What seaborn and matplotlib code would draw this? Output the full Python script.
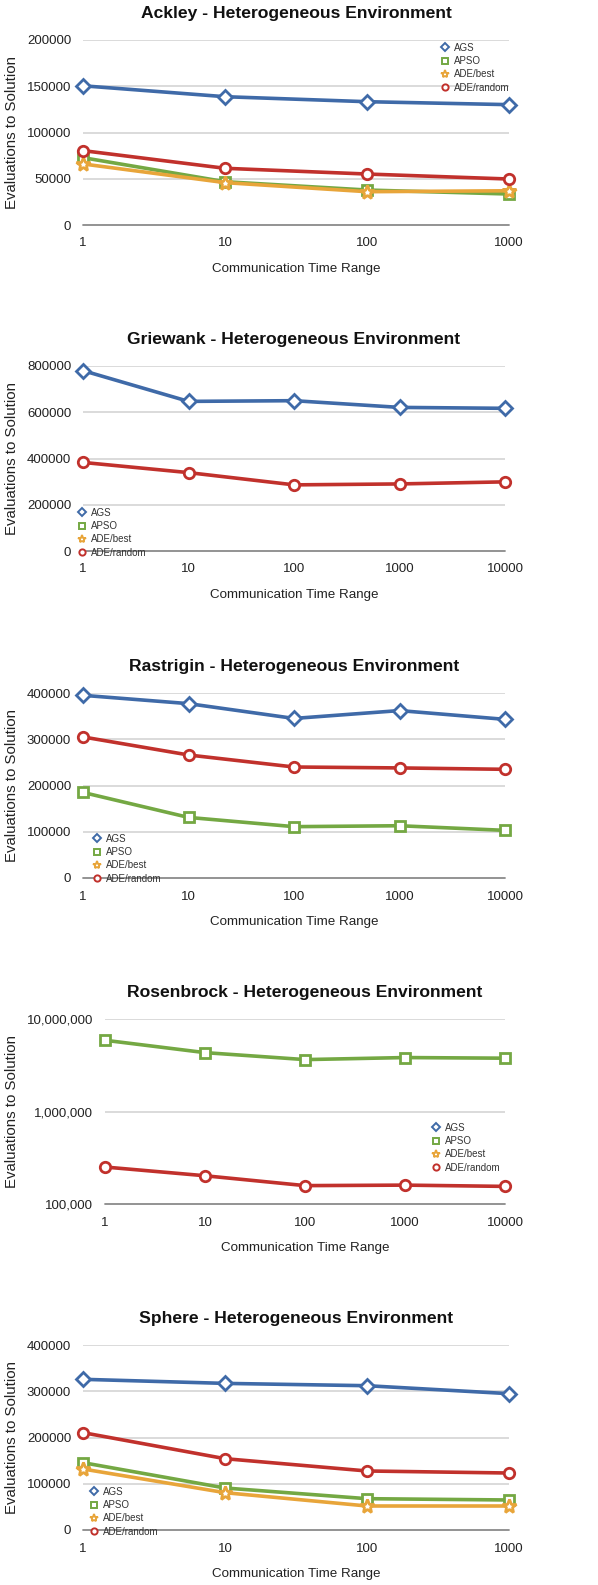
import numpy as np
import pandas as pd
import seaborn as sns
import matplotlib.pyplot as plt
from matplotlib.lines import Line2D
from matplotlib.ticker import FixedLocator, FixedFormatter, NullLocator

sns.set_theme(style="white")
plt.rcParams["font.family"] = ["Liberation Sans", "DejaVu Sans"]

# ---- data ----
series = ["AGS", "APSO", "ADE/best", "ADE/random"]
colors = {"AGS": "#3f6aa8", "APSO": "#74a843", "ADE/best": "#e8a53a", "ADE/random": "#c1312c"}
markers = {"AGS": "D", "APSO": "s", "ADE/best": "*", "ADE/random": "o"}
msizes = {"AGS": 7.5, "APSO": 7.5, "ADE/best": 10, "ADE/random": 7.5}

x4 = [1, 10, 100, 1000]
x5 = [1, 10, 100, 1000, 10000]

ackley_ags = [150500, 138700, 133300, 130100]
ackley_apso = [72800, 46800, 37800, 33500]
ackley_best = [66000, 45800, 36000, 37000]
ackley_rand = [80400, 61300, 55100, 49700]

griewank_ags = [780000, 647000, 650000, 621000, 617000]
griewank_rand = [383000, 339000, 286000, 290000, 299000]

rastrigin_ags = [395000, 377000, 345000, 362000, 343000]
rastrigin_apso = [185000, 131000, 111000, 113000, 103000]
rastrigin_rand = [305000, 266000, 240000, 238000, 235000]

rosen_apso = [5890000, 4330000, 3640000, 3830000, 3770000]
rosen_rand = [251000, 202000, 158000, 160000, 155000]

sphere_ags = [325800, 317000, 312000, 294800]
sphere_apso = [145600, 90800, 67700, 64900]
sphere_best = [131900, 80700, 51900, 51900]
sphere_rand = [210500, 154200, 127600, 123200]

panels = [
    dict(title="Ackley - Heterogeneous Environment", x=x4,
         data={"AGS": ackley_ags, "APSO": ackley_apso, "ADE/best": ackley_best, "ADE/random": ackley_rand},
         yticks=[0, 50000, 100000, 150000, 200000], ylabels=None, log=False,
         box=(83, 40, 509, 225), leg=(435, 38)),
    dict(title="Griewank - Heterogeneous Environment", x=x5,
         data={"AGS": griewank_ags, "ADE/random": griewank_rand},
         yticks=[0, 200000, 400000, 600000, 800000], ylabels=None, log=False,
         box=(83, 366, 505, 551), leg=(72, 503)),
    dict(title="Rastrigin - Heterogeneous Environment", x=x5,
         data={"AGS": rastrigin_ags, "APSO": rastrigin_apso, "ADE/random": rastrigin_rand},
         yticks=[0, 100000, 200000, 300000, 400000], ylabels=None, log=False,
         box=(83, 693, 505, 878), leg=(87, 829)),
    dict(title="Rosenbrock - Heterogeneous Environment", x=x5,
         data={"APSO": rosen_apso, "ADE/random": rosen_rand},
         yticks=[100000, 1000000, 10000000], ylabels=["100,000", "1,000,000", "10,000,000"], log=True,
         box=(105, 1019, 505, 1204), leg=(426, 1118)),
    dict(title="Sphere - Heterogeneous Environment", x=x4,
         data={"AGS": sphere_ags, "APSO": sphere_apso, "ADE/best": sphere_best, "ADE/random": sphere_rand},
         yticks=[0, 100000, 200000, 300000, 400000], ylabels=None, log=False,
         box=(83, 1345, 509, 1530), leg=(84, 1482)),
]

W, H = 598, 1585
fig = plt.figure(figsize=(W / 100, H / 100), dpi=100)

for p in panels:
    x0, y0, x1, y1 = p["box"]
    aw, ah = x1 - x0, y1 - y0
    ax = fig.add_axes([x0 / W, 1 - y1 / H, aw / W, ah / H])

    rows = []
    for name, vals in p["data"].items():
        for xv, yv in zip(p["x"], vals):
            rows.append({"x": xv, "y": yv, "series": name})
    df = pd.DataFrame(rows)

    for name in series:
        if name not in p["data"]:
            continue
        sub = df[df["series"] == name]
        sns.lineplot(data=sub, x="x", y="y", ax=ax, color=colors[name], lw=2.6,
                     marker=markers[name], ms=msizes[name], mfc="white",
                     mec=colors[name], mew=2.0, clip_on=False, zorder=3, legend=False)

    ax.set_xscale("log")
    ax.set_xlim(p["x"][0], p["x"][-1])
    ax.xaxis.set_major_locator(FixedLocator(p["x"]))
    ax.xaxis.set_major_formatter(FixedFormatter([str(v) for v in p["x"]]))
    ax.xaxis.set_minor_locator(NullLocator())

    if p["log"]:
        ax.set_yscale("log")
        ax.yaxis.set_minor_locator(NullLocator())
    ax.set_ylim(p["yticks"][0], p["yticks"][-1])
    ax.yaxis.set_major_locator(FixedLocator(p["yticks"]))
    labels = p["ylabels"] if p["ylabels"] else [str(v) for v in p["yticks"]]
    ax.yaxis.set_major_formatter(FixedFormatter(labels))

    for s in ["top", "right", "left", "bottom"]:
        ax.spines[s].set_visible(False)
    for yv in p["yticks"][1:]:
        ax.axhline(yv, color="#d4d4d4", lw=1.2, zorder=1)
    ax.axhline(p["yticks"][0], color="#8a8a8a", lw=1.3, zorder=1, clip_on=False)

    ax.tick_params(axis="both", length=0, labelsize=9.5, colors="#222222")
    ax.tick_params(axis="y", pad=8.5)
    ax.tick_params(axis="x", pad=9)
    ax.set_xlabel("Communication Time Range", fontsize=9.6, color="#222222")
    ax.set_ylabel("Evaluations to Solution", fontsize=10.8, color="#222222")
    ax.xaxis.set_label_coords(0.5, -38 / ah)
    ax.yaxis.set_label_coords((19 - x0) / aw, 0.5)
    ax.set_title(p["title"], fontsize=12.6, fontweight="bold", pad=16, color="#111111")

    handles = [Line2D([], [], ls="none", marker=markers[n], ms=msizes[n] * 0.6,
                      mfc="white", mec=colors[n], mew=1.4) for n in series]
    lx, ly = p["leg"]
    fig.legend(handles, series, loc="upper left", bbox_to_anchor=(lx / W, 1 - ly / H),
               frameon=False, fontsize=7, handlelength=1.0, handletextpad=0.5,
               labelspacing=0.34, borderpad=0, labelcolor="#333333")

fig.savefig("out.png", dpi=100)
